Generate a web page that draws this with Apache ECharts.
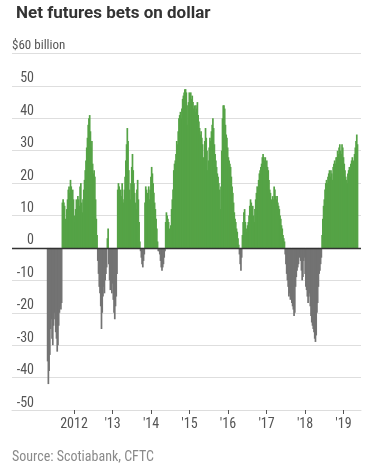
<!DOCTYPE html>
<html><head><meta charset="utf-8">
<script src="https://cdn.jsdelivr.net/npm/echarts@6/dist/echarts.min.js"></script>
<style>html,body{margin:0;padding:0;background:#fff}#c{width:391px;height:469px}</style>
</head><body><div id="c"></div>
<script>
const chartTitle = 'Net futures bets on dollar';
const unitLabel = '$60 billion';
const sourceText = 'Source: Scotiabank, CFTC';
const firstWeekUTC = [2011, 3, 26];           // first weekly observation
const axisStartUTC = [2010, 4, 23];
const axisEndUTC = [2019, 5, 16];
const tickYears = [2012, 2013, 2014, 2015, 2016, 2017, 2018, 2019];
const tickLabels = ['2012', "'13", "'14", "'15", "'16", "'17", "'18", "'19"];
const yMin = -50, yMax = 60, yStep = 10;

// weekly net positions, $ billion, in consecutive runs
const run2011Short = [-35,-42,-38,-33,-25,-22,-28,-30,-24,-20,-22,-26,-28,-32,-30,-24,-20,-18,-19,-17];
const run2011Long = [14,15,14,13,9,8,12,15,18,19,17,21,19,16,18,15,10,8,12,15,13,16,15,13,19,20,14,11,15,18,21,24,27,31,34,38,40,41,36,31,33,26,23,24,22,15,9,4];
const run2012Short = [-4,-8,-12,-14,-18,-25,-20,-15,-12,-14,-10,-8,-6];
const run2012Blip = [3,6];
const run2013Short = [-5,-10,-13,-12,-14,-11,-16,-20,-22,-18,-15,-8];
const run2013Long = [18,20,19,17,18,16,20,15,14,18,22,27,32,37,33,24,18,15,20,25,29,24,20,17,14,12,18,21,15,8,2];
const run2013bShort = [-1,-3,-5,-6,-4,-2];
const run2014Long = [14,19,18,17,16,19,15,18,22,25,23,20,17,14,12,9,6,2];
const run2014Short = [-1,-1,-2,-4,-6,-7,-6,-5,-3,-1];
const run2015Long = [8,11,10,9,8,6,5,7,12,15,18,24,26,27,29,33,32,36,40,41,42,40,43,46,47,48,49,49,48,44,38,45,48,47,48,46,47,45,43,44,42,44,43,45,41,39,37,35,36,34,32,28,26,33,37,34,30,24,27,31,34,33,36,38,40,37,32,29,27,25,23,22,20,18,12,19,30,40,44,44,43,38,35,34,31,28,27,26,25,22,19,17,14,11,9,8,6,5,3,1];
const run2016Short = [-2,-5,-7,-3];
const run2017Long = [4,8,11,12,8,6,5,7,8,10,13,15,14,11,13,10,8,12,15,17,19,18,21,23,24,25,26,28,29,28,27,28,26,27,25,24,21,18,17,15,14,16,15,19,18,16,15,16,14,13,12,10,9,7,6,4,3,2];
const run2018Short = [-2,-5,-8,-10,-12,-15,-14,-16,-15,-17,-18,-19,-21,-20,-12,-9,-7,-6,-5,-3,-2,-4,-7,-10,-9,-4,-3,-8,-12,-13,-15,-17,-15,-14,-18,-21,-23,-24,-25,-26,-28,-29,-27,-20,-17,-12,-8,-7,-5,-3];
const run2019Long = [4,9,13,15,18,20,21,20,22,23,24,22,24,23,21,25,26,27,26,28,28,30,29,31,32,30,29,32,31,28,26,24,22,21,20,23,24,25,24,26,27,28,26,27,29,31,33,35,32];

const weekly = [].concat(run2011Short, run2011Long, run2012Short, run2012Blip, run2013Short,
  run2013Long, run2013bShort, run2014Long, run2014Short, run2015Long, run2016Short,
  run2017Long, run2018Short, run2019Long);

const WEEK = 7 * 86400000;
const t0 = Date.UTC.apply(null, firstWeekUTC);
const data = weekly.map((v, i) => [t0 + i * WEEK, v]);
const tickTimes = tickYears.map(y => Date.UTC(y, 0, 1));

const GREEN = '#55a346', GRAY = '#737373';
const FONT = "'Liberation Sans Narrow', 'Roboto Condensed', Roboto, sans-serif";

const chart = echarts.init(document.getElementById('c'), null, {renderer: 'canvas'});
chart.setOption({
  animation: false,
  backgroundColor: '#fff',
  title: {
    text: chartTitle, left: 11, top: 0,
    textStyle: {fontFamily: 'Roboto, sans-serif', fontWeight: 'bold', fontSize: 17, color: '#333'}
  },
  graphic: [
    {type: 'text', left: 12, top: 39, style: {text: unitLabel, font: '13px ' + FONT, fill: '#555'}},
    {type: 'text', left: 12, top: 450, style: {text: sourceText, font: '14px ' + FONT, fill: '#8a8a8a'}}
  ],
  grid: {left: 12, right: 30, top: 53.5, bottom: 59, containLabel: false},
  xAxis: {
    type: 'value',
    min: Date.UTC.apply(null, axisStartUTC),
    max: Date.UTC.apply(null, axisEndUTC),
    axisLine: {show: true, onZero: false, lineStyle: {color: '#ddd', width: 1}},
    axisTick: {show: true, customValues: tickTimes, length: 4, lineStyle: {color: '#555'}},
    axisLabel: {
      customValues: tickTimes, margin: 7,
      fontFamily: FONT, fontSize: 14, color: '#555',
      formatter: v => tickLabels[tickYears.indexOf(new Date(v).getUTCFullYear())] || ''
    },
    splitLine: {show: false}
  },
  yAxis: {
    type: 'value', min: yMin, max: yMax, interval: yStep,
    axisLine: {show: false}, axisTick: {show: false},
    splitLine: {lineStyle: {color: '#dedede', width: 1}},
    axisLabel: {
      inside: true, align: 'right', verticalAlign: 'bottom', margin: 22,
      fontFamily: FONT, fontSize: 14, color: '#555',
      formatter: v => v === yMax ? '' : String(v)
    }
  },
  series: [{
    type: 'bar', data: data, barWidth: 1.7,
    itemStyle: {color: p => p.value[1] >= 0 ? GREEN : GRAY},
    markLine: {
      silent: true, symbol: 'none', label: {show: false},
      lineStyle: {color: '#333', width: 1.3, type: 'solid'},
      data: [{yAxis: 0}]
    }
  }]
});
</script></body></html>
